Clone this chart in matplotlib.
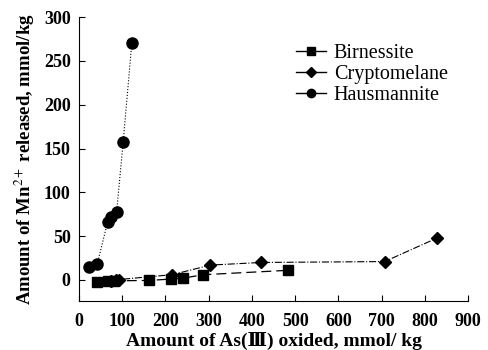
import matplotlib.pyplot as plt
from matplotlib.lines import Line2D

# values
birn_x = [41, 67, 80, 162, 212, 240, 287, 483]
birn_y = [-2, -1.5, -1, -0.5, 1, 2, 6, 11]
crypt_x = [75, 85, 92, 215, 304, 422, 707, 829]
crypt_y = [-1, 0, 0.5, 6, 17, 20, 21, 48]
haus_x = [22, 42, 66, 73, 87, 102, 122]
haus_y = [15, 18, 66, 72, 78, 157, 270]

plt.rcParams['font.family'] = ['Liberation Serif', 'DejaVu Serif']
plt.rcParams['mathtext.fontset'] = 'stix'

fig = plt.figure(figsize=(4.88, 3.5), dpi=100)
ax = fig.add_axes([0.162, 0.14, 0.797, 0.811])

ax.plot(birn_x, birn_y, color='black', lw=0.9, ls=(0, (8, 4)),
        marker='s', ms=7)
ax.plot(crypt_x, crypt_y, color='black', lw=0.8, ls='-.',
        marker='D', ms=6)
ax.plot(haus_x, haus_y, color='black', lw=0.8, ls=':',
        marker='o', ms=8)

ax.set_xlim(0, 900)
ax.set_ylim(-24, 300)
ax.set_xticks(range(0, 901, 100))
ax.set_yticks(range(0, 301, 50))
ax.tick_params(direction='in', length=4, labelsize=13)
ax.tick_params(axis='x', pad=9)
ax.tick_params(axis='y', pad=6)
for lab in ax.get_xticklabels() + ax.get_yticklabels():
    lab.set_fontweight('bold')
ax.spines['top'].set_visible(False)
ax.spines['right'].set_visible(False)

ax.set_xlabel('Amount of As(Ⅲ) oxided, mmol/ kg', fontsize=14,
              fontweight='bold', labelpad=1)
ax.set_ylabel('Amount of Mn$^{2+}$ released, mmol/kg', fontsize=13.5,
              fontweight='bold', labelpad=5)

# legend draws solid handles like the original
handles = [Line2D([], [], color='black', lw=1, marker='s', ms=5.5),
           Line2D([], [], color='black', lw=1, marker='D', ms=5),
           Line2D([], [], color='black', lw=1, marker='o', ms=6)]
ax.legend(handles, ['Birnessite', 'Cryptomelane', 'Hausmannite'],
          loc='upper left', bbox_to_anchor=(0.51, 0.97), frameon=False,
          fontsize=14.5, handlelength=1.5, handletextpad=0.4,
          labelspacing=0.1)

fig.savefig('out.png', dpi=100)
